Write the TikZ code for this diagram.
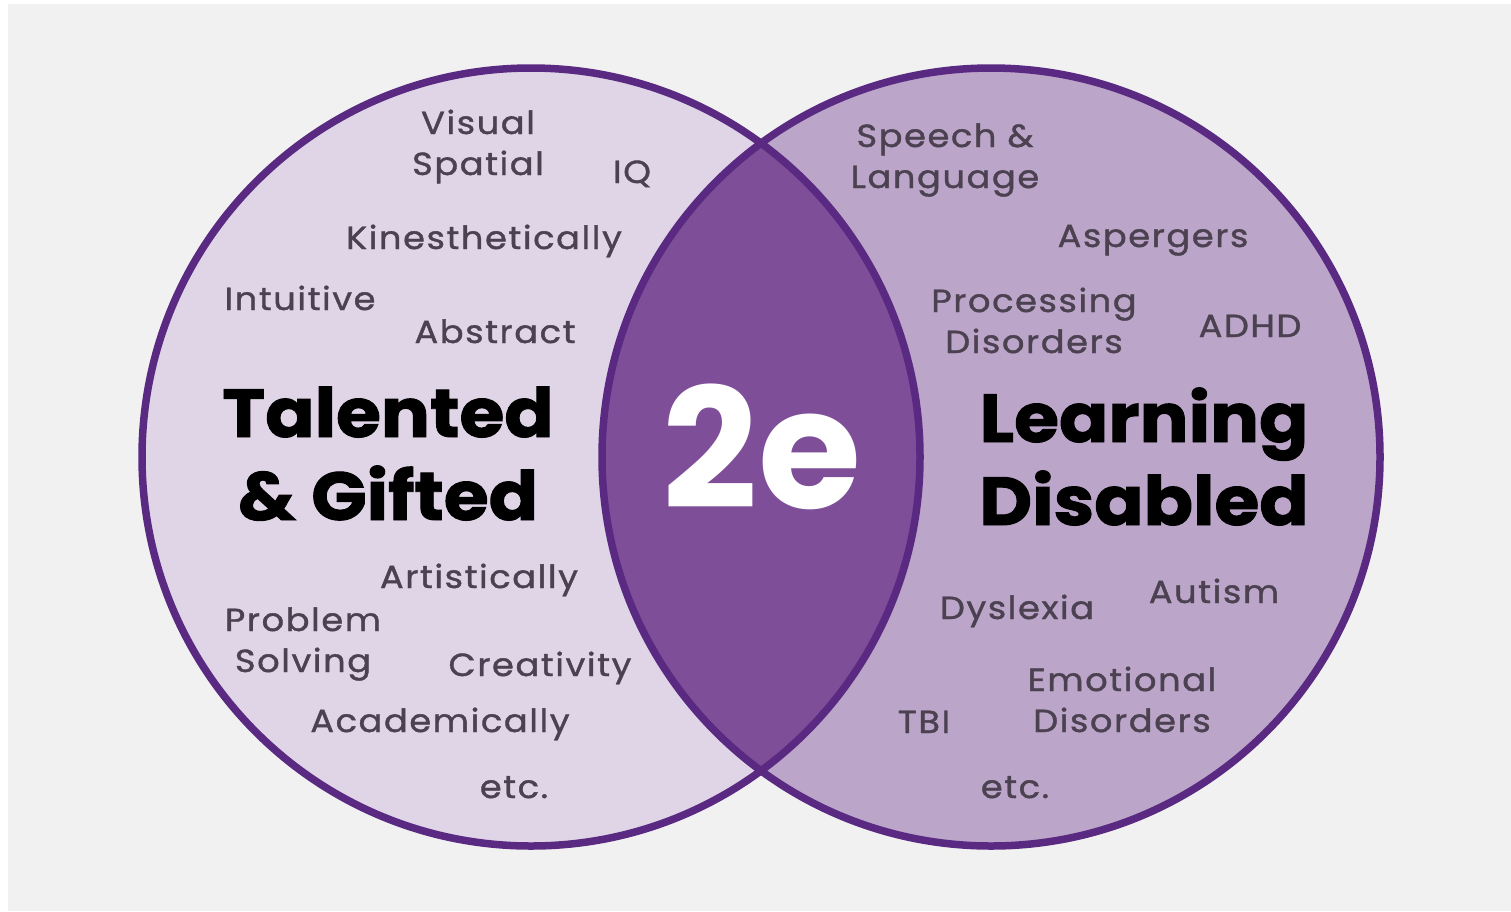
\documentclass[tikz,border=0pt]{standalone}
\usepackage{fontspec}
\setmainfont{Poppins}
\newfontfamily\itemfont{Poppins}[FakeStretch=1.1,LetterSpace=5,FakeBold=1.2]
\newfontfamily\titlefont{Poppins}[FakeStretch=1.07,FakeBold=1.4]
\definecolor{bgc}{HTML}{F1F1F1}
\definecolor{leftc}{HTML}{E0D5E7}
\definecolor{rightc}{HTML}{BBA5C8}
\definecolor{lensc}{HTML}{7E4F98}
\definecolor{ringc}{HTML}{5A2A82}
\definecolor{txtc}{HTML}{4B4150}
\tikzset{
  item/.style={text=txtc, inner sep=0pt, anchor=base, align=center,
    font=\itemfont\fontsize{32}{41}\selectfont},
  title/.style={text=black, inner sep=0pt, anchor=base, align=center,
    font=\titlefont\fontsize{68}{83}\selectfont\bfseries},
  ring/.style={draw=ringc, line width=7.5pt}
}
\begin{document}
\begin{tikzpicture}[x=1pt,y=-1pt]
\useasboundingbox (0,0) rectangle (1511,911);
\fill[white] (0,0) rectangle (1511,911);
\fill[bgc] (8,4) rectangle (1511,911);
\coordinate (cl) at (531,457);
\coordinate (cr) at (991,457);
\fill[leftc] (cl) circle (389);
\fill[rightc] (cr) circle (389);
\begin{scope}
  \clip (cl) circle (389);
  \fill[lensc] (cr) circle (389);
\end{scope}
\draw[ring] (cl) circle (389);
\draw[ring] (cr) circle (389);
% left circle
\node[item] (visual) at (478,175) {Visual\\Spatial};
\node[item] (iq) at (632,183) {IQ};
\node[item] (kin) at (484,249) {Kinesthetically};
\node[item] (intu) at (300,310) {Intuitive};
\node[item] (abs) at (495,343) {Abstract};
\node[title] (tg) at (388,520) {Talented\\\& Gifted};
\node[item] (art) at (479,588) {Artistically};
\node[item] (prob) at (303,672) {Problem\\Solving};
\node[item] (crea) at (540,676) {Creativity};
\node[item] (acad) at (440,732) {Academically};
\node[item] (etcl) at (514,798) {etc.};
% centre
\node[text=white, inner sep=0pt, anchor=base, font=\fontsize{167}{167}\selectfont\bfseries] (twoe) at (762,508) {2e};
% right circle
\node[item] (speech) at (945,188) {Speech \&\\Language};
\node[item] (asp) at (1153,247) {Aspergers};
\node[item] (proc) at (1034,353) {Processing\\Disorders};
\node[item] (adhd) at (1250,337) {ADHD};
\node[title] (ld) at (1144,525) {Learning\\Disabled};
\node[item] (dys) at (1017,619) {Dyslexia};
\node[item] (aut) at (1214,603) {Autism};
\node[item] (emo) at (1122,732) {Emotional\\Disorders};
\node[item] (tbi) at (924,733) {TBI};
\node[item] (etcr) at (1015,798) {etc.};
\end{tikzpicture}
\end{document}
